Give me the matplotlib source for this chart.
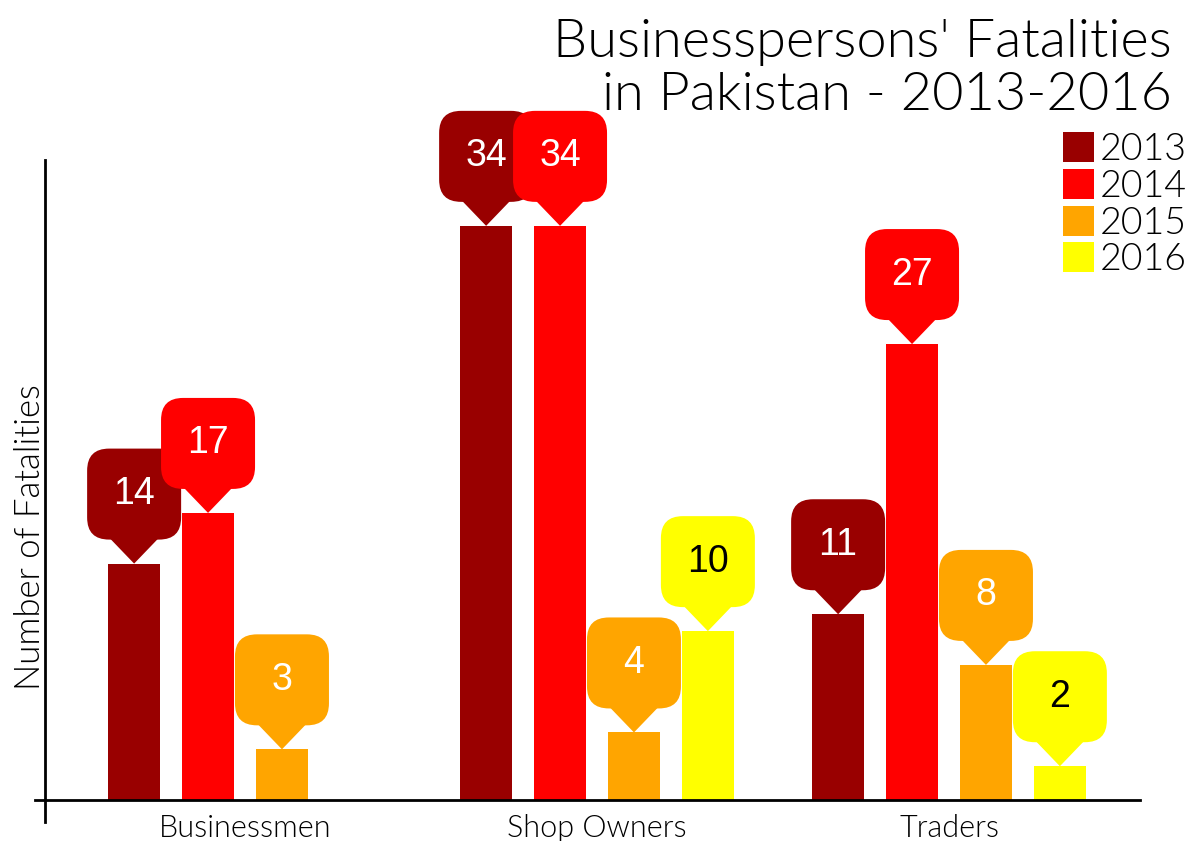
import numpy as np
import matplotlib
matplotlib.use("Agg")
import matplotlib.pyplot as plt
from matplotlib.patches import FancyBboxPatch, Polygon
from matplotlib.transforms import ScaledTranslation

categories = ["Businessmen", "Shop Owners", "Traders"]
years = ["2013", "2014", "2015", "2016"]
v2013 = [14, 34, 11]
v2014 = [17, 34, 27]
v2015 = [3, 4, 8]
v2016 = [np.nan, 10, 2]
series = [v2013, v2014, v2015, v2016]
colors = ["#990000", "#ff0000", "#ffa500", "#ffff00"]
text_colors = ["white", "white", "white", "black"]

geo_font = "Lato"
geo_weight = 300

fig = plt.figure(figsize=(11.89, 8.41), dpi=100)
ax = fig.add_axes([35 / 1189, 41 / 841, 1105 / 1189, 640 / 841])

x = np.arange(len(categories))
step = 0.21
width = 0.148
handles = []
for i, (vals, col, tcol) in enumerate(zip(series, colors, text_colors)):
    vals = np.array(vals, dtype=float)
    xs = x + (i - 1.5) * step
    ok = ~np.isnan(vals)
    b = ax.bar(xs[ok], vals[ok], width, color=col, zorder=2, label=years[i])
    handles.append(b)
    # speech-bubble label above each bar, sized in pixels
    for xi, vi in zip(xs[ok], vals[ok]):
        tr = ScaledTranslation(xi, vi, ax.transData)
        box = FancyBboxPatch((-47, 24), 94, 91,
                             boxstyle="round,pad=0,rounding_size=22",
                             facecolor=col, edgecolor="none",
                             transform=tr, zorder=3 + i, clip_on=False)
        tip = Polygon([(-25, 26), (25, 26), (0, 0)], closed=True,
                      facecolor=col, edgecolor="none",
                      transform=tr, zorder=3 + i, clip_on=False)
        ax.add_patch(box)
        ax.add_patch(tip)
        ax.annotate(str(int(vi)), xy=(xi, vi), xytext=(0, 69.5 * 0.72),
                    textcoords="offset points", ha="center", va="center",
                    color=tcol, fontsize=27, family="Liberation Sans",
                    zorder=3 + i)

ax.set_xlim(-0.5966, 2.5426)
ax.set_ylim(0, 37.9)

for s in ["top", "right", "left"]:
    ax.spines[s].set_visible(False)
ax.spines["bottom"].set_linewidth(2)
ax.plot([-0.5682, -0.5682], [-1.3, 37.9], color="black", lw=2, clip_on=False)

ax.set_yticks([])
ax.set_xticks(x)
ax.set_xticklabels(categories, fontsize=22, family=geo_font, weight=geo_weight)
ax.tick_params(axis="x", length=0, pad=10)

ax.set_ylabel("Number of Fatalities", fontsize=25, family=geo_font,
              weight=geo_weight, va="center")
ax.yaxis.set_label_coords(-0.0045, 0.41)

fig.text(1172 / 1189, 1 - 19 / 841,
         "Businesspersons' Fatalities\nin Pakistan - 2013-2016",
         ha="right", va="top", fontsize=39, family=geo_font,
         weight=geo_weight, linespacing=1.17)

leg = ax.legend(handles=handles, loc="upper right",
                bbox_to_anchor=(1187 / 1189, 1 - 132 / 841),
                bbox_transform=fig.transFigure, frameon=False,
                prop={"family": geo_font, "size": 27, "weight": geo_weight},
                handlelength=0.85, handleheight=0.85, handletextpad=0.15,
                labelspacing=0.05, borderpad=0, borderaxespad=0)

fig.savefig("out.png", dpi=100)
